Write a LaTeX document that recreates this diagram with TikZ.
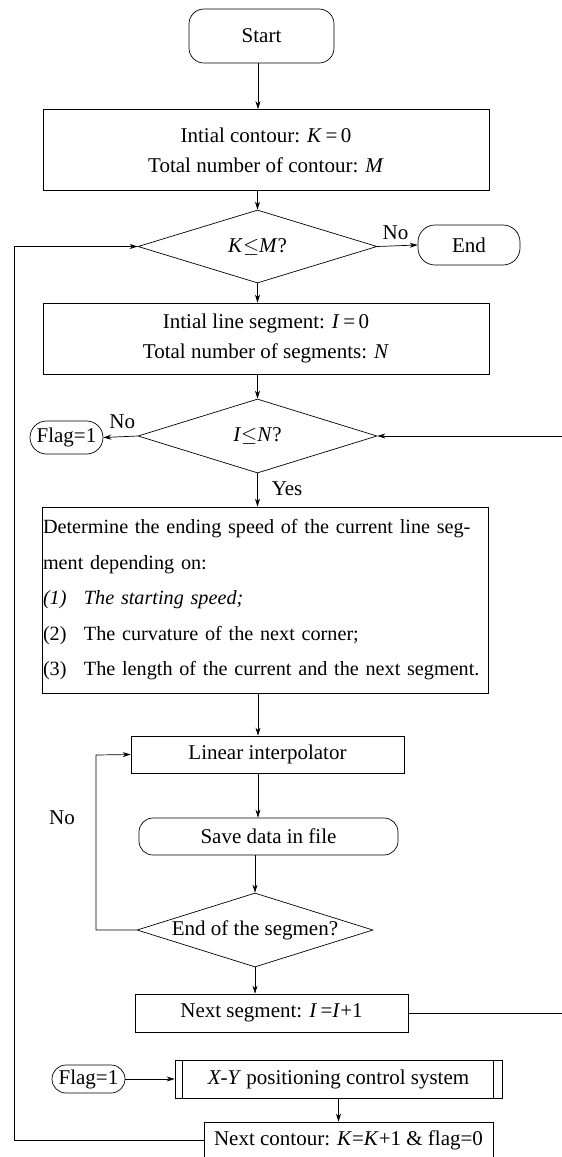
\documentclass[tikz,border=0pt]{standalone}
\usepackage{fontspec}
\setmainfont{Liberation Serif}
\usetikzlibrary{shapes.geometric,shapes.misc,arrows.meta}
\begin{document}
\begin{tikzpicture}[x=1pt,y=-1pt,
  every node/.style={font=\fontsize{21}{30}\selectfont},
  base/.style={draw, line width=0.7pt, inner sep=0pt, align=center},
  procbox/.style={base, rectangle},
  termbox/.style={base, rectangle, rounded corners=15pt},
  pillbox/.style={base, rounded rectangle},
  decbox/.style={base, diamond, aspect=3.2},
  arr/.style={line width=0.7pt, -{Stealth[length=8pt,width=5pt]}},
  conn/.style={line width=0.7pt},
  lbl/.style={inner sep=0pt}]
\useasboundingbox (0,0) rectangle (562,1157);

\node[termbox, minimum width=145, minimum height=54] (start) at (261.5,36) {Start};
\node[procbox, minimum width=446, minimum height=81] (init) at (266,150) {Intial contour: \textit{K}\,=\,0\\Total number of contour: \textit{M}};
\node[decbox, minimum width=239, minimum height=73] (d1) at (257.5,246.5) {\textit{K}$\leq$\textit{M}?};
\node[termbox, rounded corners=17pt, minimum width=102, minimum height=40] (endn) at (469,245) {End};
\node[procbox, minimum width=446, minimum height=71] (seg0) at (266,338.5) {Intial line segment: \textit{I}\,=\,0\\Total number of segments: \textit{N}};
\node[decbox, minimum width=239, minimum height=74] (d2) at (257.5,436) {\textit{I}$\leq$\textit{N}?};
\node[pillbox, minimum width=73, minimum height=33] (flagA) at (66.5,437.5) {Flag=1};
\node[procbox, minimum width=446, minimum height=186, text width=444pt, inner xsep=1pt, align=left,
  font=\fontsize{20.2}{35.5}\selectfont] (det) at (265,600)
  {Determine the ending speed of the current line seg-\\ment depending on:\\
   \makebox[41pt][l]{\textit{(1)}}\textit{The starting speed;}\\
   \makebox[41pt][l]{(2)}The curvature of the next corner;\\
   \makebox[41pt][l]{(3)}The length of the current and the next segment.};
\node[procbox, minimum width=273, minimum height=37] (lin) at (267.5,754.5) {Linear interpolator};
\node[termbox, rounded corners=14pt, minimum width=259, minimum height=37] (save) at (268.5,836.5) {Save data in file};
\node[decbox, minimum width=236, minimum height=74] (d3) at (255,930) {End of the segmen?};
\node[procbox, minimum width=273, minimum height=38] (nseg) at (271.5,1013) {Next segment: \textit{I}\,=\textit{I}+1};
\node[pillbox, minimum width=73, minimum height=28] (flagB) at (88.5,1079) {Flag=1};
\node[procbox, minimum width=327, minimum height=38] (xy) at (338.5,1079) {\textit{X-Y} positioning control system};
\draw[conn] ([xshift=8pt]xy.north west) -- ([xshift=8pt]xy.south west);
\draw[conn] ([xshift=-9pt]xy.north east) -- ([xshift=-9pt]xy.south east);
\node[procbox, minimum width=289, minimum height=36] (ncont) at (348.5,1140) {Next contour: \textit{K}=\textit{K}+1 \& flag=0};

% connectors
\draw[arr] (start.south -| 258,0) -- (init.north -| 258,0);
\draw[arr] (init.south -| d1.north) -- (d1.north);
\draw[arr] (d1.east) -- (endn.west) node[lbl, pos=0.45, above=6pt] {No};
\draw[arr] (d1.south) -- (seg0.north -| d1.south);
\draw[arr] (seg0.south -| d2.north) -- (d2.north);
\draw[arr] (d2.west) -- (flagA.east) node[lbl, pos=0.45, above=8pt] {No};
\draw[arr] (d2.south) -- (det.north -| d2.south) node[lbl, pos=0.45, right=14pt] {Yes};
\draw[arr] (det.south -| 258,0) -- (lin.north -| 258,0);
\draw[arr] (lin.south -| 258,0) -- (save.north -| 258,0);
\draw[arr] (save.south -| d3.north) -- (d3.north);
\draw[arr] (d3.south) -- (nseg.north -| d3.south);
\coordinate (loopA) at (96,930);
\coordinate (loopB) at (96,755);
\draw[arr] (d3.west) -- (loopA) -- (loopB) -- (lin.west);
\node[lbl] (nolbl) at (62,818) {No};
\coordinate (rA) at (563,1013);
\coordinate (rB) at (563,436);
\draw[arr] (nseg.east) -- (rA) -- (rB) -- (d2.east);
\draw[arr] (flagB.east) -- (xy.west);
\draw[arr] (xy.south) -- (ncont.north -| xy.south);
\coordinate (lA) at (14,1140);
\coordinate (lB) at (14,246.5);
\draw[arr] (ncont.west) -- (lA) -- (lB) -- (d1.west);
\end{tikzpicture}
\end{document}
